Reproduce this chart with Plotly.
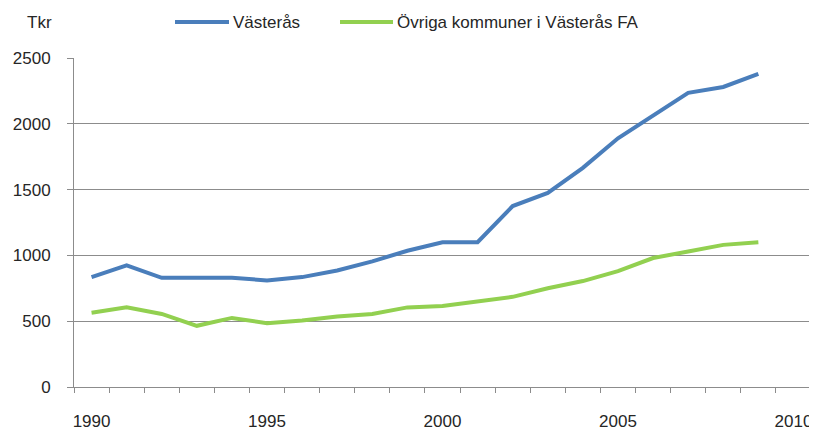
import plotly.graph_objects as go

years = list(range(1990, 2010))
vasteras = [835, 925, 830, 830, 830, 810, 835, 885, 955, 1035, 1100, 1100, 1375, 1475, 1665, 1890, 2060, 2235, 2280, 2380]
ovriga = [565, 605, 555, 465, 525, 485, 505, 535, 555, 605, 615, 650, 685, 750, 805, 880, 980, 1030, 1080, 1100]
name_a = "Västerås"
name_b = "Övriga kommuner i Västerås FA"
xtick_vals = [1990, 1995, 2000, 2005, 2010]
ytick_vals = [0, 500, 1000, 1500, 2000, 2500]

BLUE = "#4A7EBB"
GREEN = "#92D050"
GRID = "#8C8C8C"
TXT = "#262626"
FONT = "Liberation Sans, Arial, sans-serif"

# the page body adds an 8px margin; the figure is sized/offset to fill 817x432 window
OFF = 8
W, H = 817 - OFF, 432 - OFF
L, R, T, B = 74 - OFF, 6, 58 - OFF, 432 - 387.5
PW = W - L - R
PH = H - T - B

def px(x):
    return (x - OFF - L) / PW

def py(y):
    return (H - B - (y - OFF)) / PH

fig = go.Figure()
fig.add_trace(go.Scatter(x=years, y=vasteras, mode="lines", name=name_a,
                         line=dict(color=BLUE, width=4), showlegend=False))
fig.add_trace(go.Scatter(x=years, y=ovriga, mode="lines", name=name_b,
                         line=dict(color=GREEN, width=4), showlegend=False))

shapes = [
    dict(type="line", xref="paper", yref="paper", x0=px(175), x1=px(229), y0=py(22), y1=py(22),
         line=dict(color=BLUE, width=4)),
    dict(type="line", xref="paper", yref="paper", x0=px(340), x1=px(393), y0=py(22), y1=py(22),
         line=dict(color=GREEN, width=4)),
]
annotations = [
    dict(text=name_a, xref="paper", yref="paper", x=px(231), y=py(22), xanchor="left", yanchor="middle",
         showarrow=False, font=dict(size=17, color=TXT, family=FONT)),
    dict(text=name_b, xref="paper", yref="paper", x=px(395), y=py(22), xanchor="left", yanchor="middle",
         showarrow=False, font=dict(size=17, color=TXT, family=FONT)),
    dict(text="Tkr", xref="paper", yref="paper", x=px(54), y=py(22), xanchor="right", yanchor="middle",
         showarrow=False, font=dict(size=17, color=TXT, family=FONT)),
]

fig.update_layout(
    width=W, height=H,
    margin=dict(l=L, r=R, t=T, b=B, pad=0),
    paper_bgcolor="white", plot_bgcolor="white",
    font=dict(family=FONT, size=17, color=TXT),
    shapes=shapes, annotations=annotations,
    xaxis=dict(range=[1989.5, 2010.5], tickvals=xtick_vals, ticktext=[str(v) for v in xtick_vals],
               ticks="", showgrid=False, zeroline=False, showline=True, linecolor=GRID, linewidth=1,
               ticklabelstandoff=19, automargin=False, tickfont=dict(size=17),
               minor=dict(tick0=1989.5, dtick=1, ticks="outside", ticklen=5, tickcolor=GRID, showgrid=False)),
    yaxis=dict(range=[0, 2500], tickvals=ytick_vals, ticks="outside", ticklen=6, tickcolor=GRID,
               showgrid=True, gridcolor=GRID, gridwidth=1, zeroline=False, showline=True,
               linecolor=GRID, linewidth=1, ticklabelstandoff=13, automargin=False,
               tickfont=dict(size=17)),
)

fig.write_html("out.html")
